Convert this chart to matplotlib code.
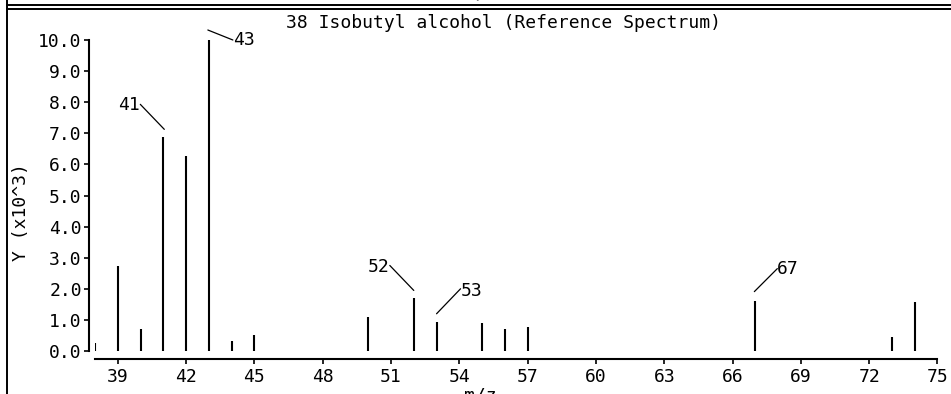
import matplotlib
matplotlib.use("Agg")
import matplotlib.pyplot as plt
from matplotlib.lines import Line2D
from matplotlib.transforms import offset_copy

# ---- data ----
mz = [38, 39, 40, 41, 42, 43, 44, 45, 50, 52, 53, 55, 56, 57, 67, 73, 74]
intensity = [0.27, 2.74, 0.70, 6.87, 6.27, 10.0, 0.33, 0.51, 1.08, 1.69, 0.94,
             0.89, 0.70, 0.76, 1.62, 0.46, 1.57]
label_mz = [41, 43, 52, 53, 67]
x_ticks = [39, 42, 45, 48, 51, 54, 57, 60, 63, 66, 69, 72, 75]
y_ticks = [0, 1, 2, 3, 4, 5, 6, 7, 8, 9, 10]
title = "38 Isobutyl alcohol (Reference Spectrum)"
xlabel = "m/z"
ylabel = "Y (x10^3)"

W, H = 951, 394
DPI = 100
FONT = "DejaVu Sans Mono"
FS = 13

plt.rcParams['font.family'] = [FONT]

fig = plt.figure(figsize=(W / DPI, H / DPI), dpi=DPI)
ax = fig.add_axes([95 / W, 43 / H, (937.5 - 95) / W, 311 / H])

ax.vlines(mz, 0, intensity, colors='black', linewidth=1.5)

ax.set_xlim(38, 75)
ax.set_ylim(0, 10)
ax.set_xticks(x_ticks)
ax.set_xticklabels([str(t) for t in x_ticks])
ax.set_yticks(y_ticks)
ax.set_yticklabels([f"{t:.1f}" for t in y_ticks])

for s in ['top', 'right']:
    ax.spines[s].set_visible(False)
ax.spines['left'].set_position(('outward', 4))
ax.spines['bottom'].set_position(('outward', 6))
ax.spines['left'].set_linewidth(1.5)
ax.spines['bottom'].set_linewidth(1.5)
ax.tick_params(axis='both', direction='out', length=3.5, width=1.2,
               labelsize=FS, pad=2)
ax.tick_params(axis='x', pad=3)
ax.patch.set_visible(False)

# peak labels with leader lines (offsets in pixels relative to peak top)
label_style = {
    41: dict(start=(1, 8), end=(-23, 33), ha='right', dy=-1),
    43: dict(start=(-1, 10), end=(24, 0), ha='left', dy=0),
    52: dict(start=(0, 8), end=(-24, 33), ha='right', dy=-1.5),
    53: dict(start=(0, 8), end=(24, 33), ha='left', dy=-2),
    67: dict(start=(-1, 9), end=(22, 32), ha='left', dy=0),
}
for m in label_mz:
    v = intensity[mz.index(m)]
    st = label_style[m]
    sx, sy = st['start']
    ex, ey = st['end']
    tr = offset_copy(ax.transData, fig=fig, x=sx, y=sy, units='dots')
    ax.annotate('', xy=(m, v), xycoords=tr, xytext=(ex - sx, ey - sy),
                textcoords='offset pixels',
                arrowprops=dict(arrowstyle='-', shrinkA=0, shrinkB=0,
                                lw=0.9, color='black'),
                annotation_clip=False)
    ax.annotate(str(m), xy=(m, v), xycoords='data',
                xytext=(ex, ey + st['dy']), textcoords='offset pixels',
                ha=st['ha'], va='center', fontsize=FS, annotation_clip=False)

# texts
fig.text(503 / W, (H - 23) / H, title, ha='center', va='center', fontsize=FS)
fig.text(480 / W, (H - 387) / H, xlabel, ha='center', va='top', fontsize=FS)
fig.text(481 / W, (H - 3) / H, xlabel, ha='center', va='bottom', fontsize=FS)
fig.text(21 / W, (H - 212) / H, ylabel, ha='center', va='center',
         rotation=90, fontsize=FS)

# frame lines (figure pixel coords)
def hline(y_from_top, lw):
    yf = (H - y_from_top) / H
    fig.add_artist(Line2D([7 / W, 1], [yf, yf], transform=fig.transFigure,
                          color='black', lw=lw))

hline(5, 1.4)
hline(9, 1.4)
fig.add_artist(Line2D([7 / W, 7 / W], [0, 1], transform=fig.transFigure,
                      color='black', lw=1.4))

fig.savefig("out.png", dpi=DPI, facecolor='white')
